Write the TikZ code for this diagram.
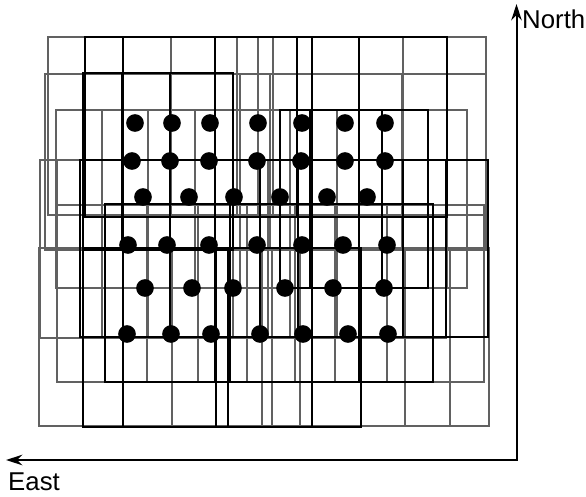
\documentclass[tikz,border=0pt]{standalone}
\usepackage{fontspec}
\setmainfont{Liberation Sans}
\usetikzlibrary{arrows.meta}
\newcommand{\gridrect}[6]{%
  \draw[#1] (#2,#3) rectangle (#4,#5);
  \foreach \v in {#6} {\draw[#1] (\v,#3) -- (\v,#5);}%
}
\begin{document}
\begin{tikzpicture}[x=0.03cm,y=-0.03cm,
  thinbox/.style={draw=black!62,line width=1.1pt},
  thickbox/.style={draw=black,line width=1.6pt},
  gcp/.style={circle,fill=black,inner sep=0pt,minimum size=0.53cm},
  axis/.style={line width=1.7pt,line join=miter,{Stealth[length=14pt,width=9pt]}-{Stealth[length=14pt,width=9pt]}},
  lbl/.style={font=\fontsize{22}{26}\selectfont,inner sep=0pt}]
\useasboundingbox (0,0) rectangle (586,496);
% thin footprints
\gridrect{thinbox}{48}{37}{486}{215}{171,237,258,273,403,447}
\gridrect{thinbox}{45}{74}{486}{250}{240,270,402}
\gridrect{thinbox}{56}{110}{467}{288}{102,148,195,240,280,290,337,447}
\gridrect{thinbox}{40}{160}{446}{338}{57,102,148,233,268,290,337}
\gridrect{thinbox}{57}{205}{484}{382}{147,198,247,295,335,387}
\gridrect{thinbox}{39}{248}{489}{426}{172,262,272,300,405,450}
% thick footprints
\gridrect{thickbox}{85}{37}{447}{217}{123,215,297,312,359}
\gridrect{thickbox}{83}{73}{233}{250}{122,170,215}
\gridrect{thickbox}{280}{110}{428}{288}{310,359,382}
\gridrect{thickbox}{80}{160}{488}{337}{123,170,215,260,298,403,446}
\gridrect{thickbox}{105}{204}{433}{382}{215,230,312,359}
\gridrect{thickbox}{83}{248}{361}{427}{123,216,228,312}
% control points
\foreach \x [count=\i] in {135,172,210,258,302,345,385} \node[gcp] (pa\i) at (\x,123) {};
\foreach \x [count=\i] in {132,170,209,257,301,345,385} \node[gcp] (pb\i) at (\x,161) {};
\foreach \x [count=\i] in {143,189,234,280,327,367} \node[gcp] (pc\i) at (\x,197) {};
\foreach \x [count=\i] in {128,167,209,257,302,343,387} \node[gcp] (pd\i) at (\x,245) {};
\foreach \x [count=\i] in {145,192,233,285,333,384} \node[gcp] (pe\i) at (\x,288) {};
\foreach \x [count=\i] in {127,171,211,260,303,348,388} \node[gcp] (pf\i) at (\x,334) {};
% axes
\coordinate (origin) at (516.5,460);
\coordinate (ntip) at (516.5,4);
\coordinate (etip) at (6,460);
\draw[axis] (ntip) -- (origin) -- (etip);
\node[lbl,anchor=base west] (north) at (522,28) {North};
\node[lbl,anchor=base west] (east) at (8,490) {East};
\end{tikzpicture}
\end{document}
